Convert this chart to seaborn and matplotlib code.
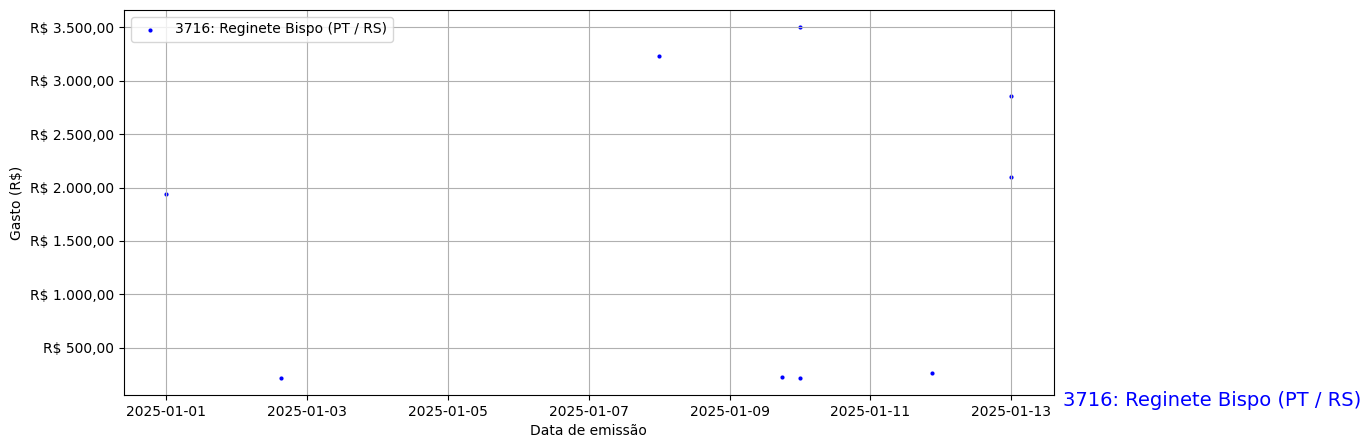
import pandas as pd
import matplotlib
matplotlib.use("Agg")
import matplotlib.pyplot as plt
import matplotlib.dates as mdates
import matplotlib.ticker as ticker
import seaborn as sns

# Data
datas = ["2025-01-01 00:00", "2025-01-02 15:00", "2025-01-08 00:00",
         "2025-01-09 18:00", "2025-01-10 00:00", "2025-01-10 00:00",
         "2025-01-11 21:00", "2025-01-13 00:00", "2025-01-13 00:00"]
gastos = [1937, 219, 3232, 228, 3500, 219, 258, 2856, 2096]
deputado = "3716: Reginete Bispo (PT / RS)"

df = pd.DataFrame({"data": pd.to_datetime(datas), "gasto": gastos})


def brl(v, pos):
    s = f"{v:,.2f}".replace(",", "X").replace(".", ",").replace("X", ".")
    return f"R$ {s}"


fig, ax = plt.subplots(figsize=(13.7, 4.48), dpi=100)
fig.subplots_adjust(left=0.0905, right=0.7690, bottom=0.1183, top=0.9777)

sns.scatterplot(data=df, x="data", y="gasto", color="blue", s=9,
                linewidth=0, label=deputado, ax=ax)

ax.xaxis.set_major_locator(mdates.DayLocator(interval=2))
ax.xaxis.set_major_formatter(mdates.DateFormatter("%Y-%m-%d"))
ax.yaxis.set_major_formatter(ticker.FuncFormatter(brl))
ax.grid(True)
ax.set_xlabel("Data de emissão")
ax.set_ylabel("Gasto (R$)")
ax.legend(loc="upper left")

ax.text(1.01, -0.015, deputado, transform=ax.transAxes, fontsize=14,
        color="blue", va="center", ha="left")

plt.savefig("out.png", dpi=100)
